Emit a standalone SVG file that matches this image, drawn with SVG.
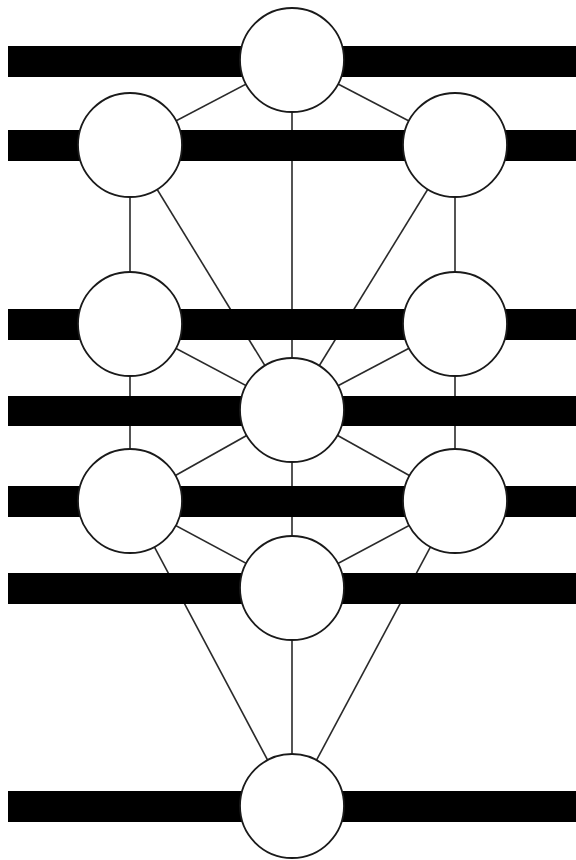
<svg xmlns="http://www.w3.org/2000/svg" width="576" height="860" viewBox="0 0 576 860">
<style>
.bar{fill:#000}
.conn line{stroke:#2a2a2a;stroke-width:1.6;fill:none}
.node circle{fill:#fff;stroke:#1a1a1a;stroke-width:1.8}
</style>
<rect width="576" height="860" fill="#fff"/>
<g id="connectors" class="conn">
<line x1="292" y1="60" x2="130" y2="145"/>
<line x1="292" y1="60" x2="455" y2="145"/>
<line x1="292" y1="60" x2="292" y2="410"/>
<line x1="130" y1="145" x2="130" y2="324"/>
<line x1="455" y1="145" x2="455" y2="324"/>
<line x1="130" y1="145" x2="292" y2="410"/>
<line x1="455" y1="145" x2="292" y2="410"/>
<line x1="130" y1="324" x2="292" y2="410"/>
<line x1="455" y1="324" x2="292" y2="410"/>
<line x1="130" y1="324" x2="130" y2="501"/>
<line x1="455" y1="324" x2="455" y2="501"/>
<line x1="292" y1="410" x2="130" y2="501"/>
<line x1="292" y1="410" x2="455" y2="501"/>
<line x1="292" y1="410" x2="292" y2="588"/>
<line x1="130" y1="501" x2="292" y2="588"/>
<line x1="455" y1="501" x2="292" y2="588"/>
<line x1="130" y1="501" x2="292" y2="806"/>
<line x1="455" y1="501" x2="292" y2="806"/>
<line x1="292" y1="588" x2="292" y2="806"/>
</g>
<g id="bars">
<rect class="bar" x="8" y="46" width="568" height="31"/>
<rect class="bar" x="8" y="130" width="568" height="31"/>
<rect class="bar" x="8" y="309" width="568" height="31"/>
<rect class="bar" x="8" y="396" width="568" height="30"/>
<rect class="bar" x="8" y="486" width="568" height="31"/>
<rect class="bar" x="8" y="573" width="568" height="31"/>
<rect class="bar" x="8" y="791" width="568" height="31"/>
</g>
<g id="keter" class="node"><circle cx="292" cy="60" r="52"/></g>
<g id="binah" class="node"><circle cx="130" cy="145" r="52"/></g>
<g id="chokmah" class="node"><circle cx="455" cy="145" r="52"/></g>
<g id="gevurah" class="node"><circle cx="130" cy="324" r="52"/></g>
<g id="chesed" class="node"><circle cx="455" cy="324" r="52"/></g>
<g id="tiferet" class="node"><circle cx="292" cy="410" r="52"/></g>
<g id="hod" class="node"><circle cx="130" cy="501" r="52"/></g>
<g id="netzach" class="node"><circle cx="455" cy="501" r="52"/></g>
<g id="yesod" class="node"><circle cx="292" cy="588" r="52"/></g>
<g id="malkuth" class="node"><circle cx="292" cy="806" r="52"/></g>
</svg>
